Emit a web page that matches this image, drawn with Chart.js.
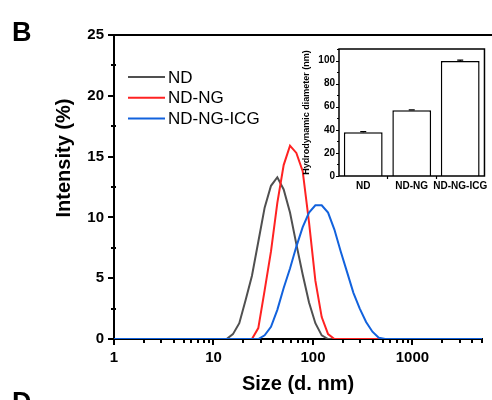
<!DOCTYPE html>
<html>
<head>
<meta charset="utf-8">
<script src="https://cdn.jsdelivr.net/npm/chart.js@4.4.1/dist/chart.umd.min.js"></script>
<style>
  html, body { margin: 0; padding: 0; background: #fff; }
  #wrap { position: relative; width: 492px; height: 400px; overflow: hidden; }
  #main { position: absolute; left: 0; top: 0; }
  #inset { position: absolute; left: 296px; top: 38px; }
</style>
</head>
<body>
<div id="wrap">
  <canvas id="main" width="492" height="400"></canvas>
  <canvas id="inset" width="196" height="162"></canvas>
</div>
<script>
// DLS size bins (d. nm)
const sizes = [
  0.9649, 1.117, 1.294, 1.499, 1.736, 2.010, 2.328, 2.696, 3.122, 3.615,
  4.187, 4.849, 5.615, 6.503, 7.531, 8.721, 10.10, 11.70, 13.54, 15.69,
  18.17, 21.04, 24.36, 28.21, 32.67, 37.84, 43.82, 50.75, 58.77, 68.06,
  78.82, 91.28, 105.7, 122.4, 141.8, 164.2, 190.1, 220.2, 255.0, 295.3,
  342.0, 396.1, 458.7, 531.2, 615.1, 712.4, 825.0, 955.4, 1106, 1281,
  1484, 1718, 1990, 2305, 2669, 3091, 3580, 4145, 4801, 5560,
];

// intensity (%) per bin
const ndIntensity = [
  0, 0, 0, 0, 0, 0, 0, 0, 0, 0,
  0, 0, 0, 0, 0, 0, 0, 0, 0, 0.4,
  1.3, 3.2, 5.2, 8.0, 10.8, 12.6, 13.3, 12.3, 10.4, 7.8,
  5.3, 3.0, 1.3, 0.3, 0, 0, 0, 0, 0, 0,
  0, 0, 0, 0, 0, 0, 0, 0, 0, 0,
  0, 0, 0, 0, 0, 0, 0, 0, 0, 0,
];
const ndNgIntensity = [
  0, 0, 0, 0, 0, 0, 0, 0, 0, 0,
  0, 0, 0, 0, 0, 0, 0, 0, 0, 0,
  0, 0, 0, 0.9, 4.0, 7.2, 11.2, 14.3, 15.9, 15.3,
  13.8, 9.6, 4.8, 1.8, 0.4, 0, 0, 0, 0, 0,
  0, 0, 0, 0, 0, 0, 0, 0, 0, 0,
  0, 0, 0, 0, 0, 0, 0, 0, 0, 0,
];
const ndNgIcgIntensity = [
  0, 0, 0, 0, 0, 0, 0, 0, 0, 0,
  0, 0, 0, 0, 0, 0, 0, 0, 0, 0,
  0, 0, 0, 0, 0.3, 1.0, 2.4, 4.2, 5.8, 7.6,
  9.2, 10.4, 11.0, 11.0, 10.4, 9.0, 7.2, 5.5, 3.8, 2.5,
  1.4, 0.6, 0.1, 0, 0, 0, 0, 0, 0, 0,
  0, 0, 0, 0, 0, 0, 0, 0, 0, 0,
];

const xMajorTicks = [1, 10, 100, 1000];
const yTicks = [0, 5, 10, 15, 20, 25];

// inset: hydrodynamic diameter
const insetCategories = ["ND", "ND-NG", "ND-NG-ICG"];
const insetDiameters = [38, 57, 99.5];
const insetErrors = [0.4, 0.3, 0.8];
const insetYTicks = [0, 20, 40, 60, 80, 100];

Chart.defaults.font.family = '"Liberation Sans", Arial, sans-serif';
Chart.defaults.color = "#000";

const isDecade = (v) => Math.abs(Math.log10(v) - Math.round(Math.log10(v))) < 1e-9;

// minor ticks 2..9 in each decade up to the axis max
const xAllTicks = [];
for (const m of xMajorTicks) {
  for (let d = 1; d <= 9; d++) {
    if (d * m <= 5000) xAllTicks.push(d * m);
  }
}

const toPoints = (vals) => sizes.map((s, i) => ({ x: s, y: vals[i] }));

const mainDecor = {
  id: "mainDecor",
  afterDraw(chart) {
    const { ctx, chartArea: a, scales: { x, y } } = chart;
    ctx.save();
    ctx.strokeStyle = "#000";
    ctx.lineWidth = 2;
    ctx.beginPath();
    // top frame line
    ctx.moveTo(a.left - 1, a.top);
    ctx.lineTo(chart.width, a.top);
    // x ticks
    for (const t of x.ticks) {
      const px = Math.round(x.getPixelForValue(t.value));
      const len = isDecade(t.value) ? 6 : 4;
      ctx.moveTo(px, a.bottom);
      ctx.lineTo(px, a.bottom + len);
    }
    // y ticks, major + minor midpoints
    y.ticks.forEach((t, i) => {
      const py = Math.round(y.getPixelForValue(t.value));
      ctx.moveTo(a.left, py);
      ctx.lineTo(a.left - 6, py);
      if (i > 0) {
        const mid = (t.value + y.ticks[i - 1].value) / 2;
        const pm = Math.round(y.getPixelForValue(mid));
        ctx.moveTo(a.left + 2, pm);
        ctx.lineTo(a.left - 3, pm);
      }
    });
    ctx.stroke();

    // legend
    ctx.font = '17px "Liberation Sans", Arial, sans-serif';
    ctx.textBaseline = "middle";
    ctx.textAlign = "left";
    chart.data.datasets.forEach((ds, i) => {
      const ly = 77 + i * 20.7;
      ctx.strokeStyle = ds.borderColor;
      ctx.lineWidth = 2;
      ctx.beginPath();
      ctx.moveTo(128, ly);
      ctx.lineTo(165, ly);
      ctx.stroke();
      ctx.fillStyle = "#000";
      ctx.fillText(ds.label, 168, ly + 1);
    });

    // y title
    ctx.save();
    ctx.translate(64, 158);
    ctx.rotate(-Math.PI / 2);
    ctx.textAlign = "center";
    ctx.font = 'bold 20px "Liberation Sans", Arial, sans-serif';
    ctx.fillText("Intensity (%)", 0, 0);
    ctx.restore();

    // panel letters
    ctx.textBaseline = "alphabetic";
    ctx.font = 'bold 27px "Liberation Sans", Arial, sans-serif';
    ctx.fillText("B", 12, 41);
    ctx.fillText("D", 12, 411);
    ctx.restore();
  },
};

new Chart(document.getElementById("main"), {
  type: "line",
  data: {
    datasets: [
      { label: "ND", data: toPoints(ndIntensity), borderColor: "#505050", order: 2 },
      { label: "ND-NG", data: toPoints(ndNgIntensity), borderColor: "#ff2222", order: 1 },
      { label: "ND-NG-ICG", data: toPoints(ndNgIcgIntensity), borderColor: "#1262dd", order: 0 },
    ],
  },
  options: {
    responsive: false,
    animation: false,
    devicePixelRatio: 1,
    layout: { padding: { left: 0, top: 35, right: 1, bottom: 0 } },
    elements: {
      line: { borderWidth: 2, tension: 0, fill: false },
      point: { radius: 0 },
    },
    plugins: { legend: { display: false }, tooltip: { enabled: false } },
    scales: {
      x: {
        type: "logarithmic",
        min: 1,
        max: 5000,
        afterBuildTicks: (s) => {
          s.ticks = xAllTicks.map((v) => ({ value: v }));
        },
        afterFit: (s) => {
          s.height = 61;
        },
        grid: { display: false, drawTicks: false },
        border: { color: "#000", width: 2 },
        ticks: {
          autoSkip: false,
          maxRotation: 0,
          padding: 10,
          font: { size: 15, weight: "bold" },
          callback: (v) => (isDecade(v) ? String(v) : ""),
        },
        title: {
          display: true,
          text: "Size (d. nm)",
          font: { size: 20, weight: "bold" },
          padding: { top: 0, bottom: 4 },
        },
      },
      y: {
        min: 0,
        max: 25,
        afterBuildTicks: (s) => {
          s.ticks = yTicks.map((v) => ({ value: v }));
        },
        afterFit: (s) => {
          s.width = 114;
        },
        grid: { display: false, drawTicks: false },
        border: { color: "#000", width: 2 },
        ticks: { padding: 10, font: { size: 15, weight: "bold" } },
      },
    },
  },
  plugins: [mainDecor],
});

const insetDecor = {
  id: "insetDecor",
  afterDraw(chart) {
    const { ctx, chartArea: a, scales: { x, y } } = chart;
    ctx.save();
    ctx.strokeStyle = "#000";
    ctx.lineWidth = 1.5;
    ctx.strokeRect(a.left, a.top, a.right - a.left, a.bottom - a.top);
    ctx.lineWidth = 1.2;
    ctx.beginPath();
    y.ticks.forEach((t) => {
      const py = Math.round(y.getPixelForValue(t.value)) + 0.5;
      ctx.moveTo(a.left, py);
      ctx.lineTo(a.left - 3, py);
      const pm = Math.round(y.getPixelForValue(t.value + 10)) + 0.5;
      ctx.moveTo(a.left, pm);
      ctx.lineTo(a.left - 2, pm);
    });
    for (let i = 1; i < insetCategories.length; i++) {
      const px = Math.round((x.getPixelForValue(i - 1) + x.getPixelForValue(i)) / 2) + 0.5;
      ctx.moveTo(px, a.bottom);
      ctx.lineTo(px, a.bottom + 3);
    }
    // error bars
    const meta = chart.getDatasetMeta(0);
    meta.data.forEach((bar, i) => {
      const hi = y.getPixelForValue(insetDiameters[i] + insetErrors[i]);
      const lo = y.getPixelForValue(insetDiameters[i] - insetErrors[i]);
      ctx.moveTo(bar.x, hi);
      ctx.lineTo(bar.x, lo);
      ctx.moveTo(bar.x - 3, hi);
      ctx.lineTo(bar.x + 3, hi);
    });
    ctx.stroke();
    ctx.restore();
  },
};

new Chart(document.getElementById("inset"), {
  type: "bar",
  data: {
    labels: insetCategories,
    datasets: [
      {
        data: insetDiameters,
        backgroundColor: "#fff",
        borderColor: "#000",
        borderWidth: 1.5,
        barPercentage: 0.8,
        categoryPercentage: 1,
      },
    ],
  },
  options: {
    responsive: false,
    animation: false,
    devicePixelRatio: 1,
    layout: { padding: { left: 0, top: 11, right: 5, bottom: 0 } },
    plugins: { legend: { display: false }, tooltip: { enabled: false } },
    scales: {
      x: {
        afterFit: (s) => {
          s.height = 24;
        },
        grid: { display: false, drawTicks: false },
        border: { display: false },
        ticks: { autoSkip: false, padding: 4, maxRotation: 0, font: { size: 10, weight: "bold" } },
      },
      y: {
        min: 0,
        max: 110,
        afterBuildTicks: (s) => {
          s.ticks = insetYTicks.map((v) => ({ value: v }));
        },
        afterFit: (s) => {
          s.width = 43;
        },
        grid: { display: false, drawTicks: false },
        border: { display: false },
        ticks: { padding: 4, font: { size: 10, weight: "bold" } },
        title: {
          display: true,
          text: "Hydrodynamic diameter (nm)",
          font: { size: 9, weight: "bold" },
          padding: { top: 5, bottom: 0 },
        },
      },
    },
  },
  plugins: [insetDecor],
});
</script>
</body>
</html>
